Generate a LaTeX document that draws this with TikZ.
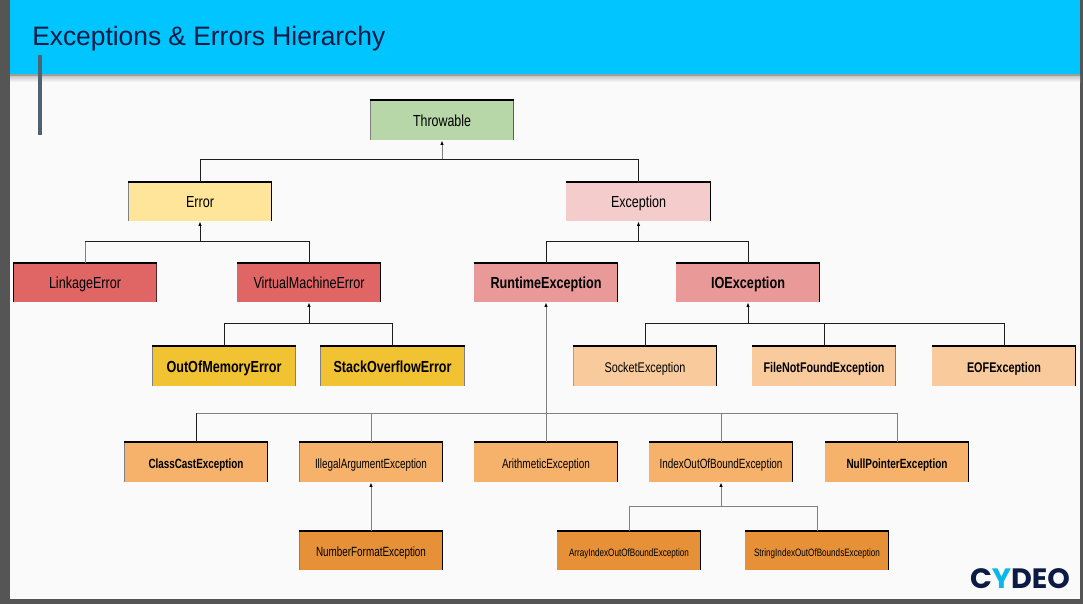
\documentclass[tikz,border=0pt]{standalone}
\usepackage{fontspec}
\setmainfont{Liberation Sans}
\newfontfamily\logofont{Poppins}
\usetikzlibrary{arrows.meta}
\definecolor{pagebg}{HTML}{FAFAFA}
\definecolor{frame}{HTML}{555555}
\definecolor{header}{HTML}{00C5FF}
\definecolor{navy}{HTML}{0B1B45}
\definecolor{accent}{HTML}{4F6272}
\definecolor{shadowc}{HTML}{C4C4C4}
\definecolor{shadowl}{HTML}{9C9C9C}
\definecolor{cThrow}{HTML}{B7D7A8}
\definecolor{cErr}{HTML}{FFE599}
\definecolor{cExc}{HTML}{F4CCCC}
\definecolor{cRed}{HTML}{E06666}
\definecolor{cPink}{HTML}{EA9999}
\definecolor{cYel}{HTML}{F1C232}
\definecolor{cPeach}{HTML}{F9CB9C}
\definecolor{cOrg}{HTML}{F6B26B}
\definecolor{cDeep}{HTML}{E69138}
\definecolor{lineD}{HTML}{1E1E1E}
\definecolor{lineL}{HTML}{808080}
\newsavebox\lblbox
% #1 target width in reference pixels, #2 text: squeezed to exactly that width
\newcommand\fitw[2]{\sbox\lblbox{#2}\pgfmathsetmacro\lblscale{(#1*0.75)/\the\wd\lblbox}\scalebox{\lblscale}[1]{\usebox\lblbox}}
\newcommand\lab[3]{\fitw{#2}{\fontsize{#1}{#1}\selectfont #3}}
\newcommand\blab[3]{\fitw{#2}{\fontsize{#1}{#1}\selectfont\bfseries #3}}
\tikzset{
  x=0.75pt,y=-0.75pt,
  boxnode/.style={draw=none,inner sep=0pt,text=black,align=center,text height=10pt,text depth=1pt},
  topedge/.style={line width=1.5pt,black},
  sideedge/.style={line width=0.8pt},
  conn/.style={line width=0.75pt,lineD,xshift=-0.4pt},
  connl/.style={line width=0.75pt,lineL,xshift=-0.4pt},
  tipped/.style={-{Triangle[length=3pt,width=2.2pt,color=black,fill=black]},shorten >=0.5pt},
}
% name, fill, left colour, right colour, (l,t,r,b), label
\def\bx#1#2#3#4(#5,#6,#7,#8)#9{%
  \node[boxnode,fill=#2,minimum width={(#7-#5-1)*0.75pt},minimum height={(#8-#6)*0.75pt}] (#1) at ({(#5+#7)/2},{(#6+#8)/2}) {#9};
  \draw[sideedge,#3] (#1.north west) -- (#1.south west);
  \draw[sideedge,#4] (#1.north east) -- (#1.south east);
  \draw[topedge] ([xshift=-0.3pt]#1.north west) -- ([xshift=0.3pt]#1.north east);
}
\begin{document}
\begin{tikzpicture}
\useasboundingbox (0,0) rectangle (1083,604);
\fill[frame] (0,0) rectangle (1083,604);
\fill[pagebg] (10,74) rectangle (1080,599);
\shade[top color=shadowc,bottom color=pagebg] (10,75.5) rectangle (1080,82);
\fill[shadowl] (10,74) rectangle (1080,75.5);
\fill[header] (10,0) rectangle (1080,74);
\fill[accent] (38,55) rectangle (42,135);
\node[inner sep=0pt,text=navy,anchor=base west] (title) at (32,45) {\lab{20}{353}{Exceptions \& Errors Hierarchy}};

\bx{thr}{cThrow}{lineL}{accent}(370,100,514,140){\lab{12}{58}{Throwable}}
\bx{err}{cErr}{lineL}{black}(128,182,272,221){\lab{12}{28}{Error}}
\bx{exc}{cExc}{cExc}{black}(566,182,711,221){\lab{12}{55}{Exception}}
\bx{lnk}{cRed}{black}{black!60!cRed}(13,263,157,302){\lab{12}{72}{LinkageError}}
\bx{vme}{cRed}{cRed}{black}(237,263,381,302){\lab{12}{111}{VirtualMachineError}}
\bx{run}{cPink}{cPink}{black}(474,263,618,302){\blab{12}{111}{RuntimeException}}
\bx{ioe}{cPink}{cPink}{black}(676,263,820,302){\blab{12}{74}{IOException}}
\bx{oom}{cYel}{lineL}{lineL}(152,346,296,386){\blab{12}{115}{OutOfMemoryError}}
\bx{soe}{cYel}{lineL}{lineL}(320,346,465,386){\blab{12}{118}{StackOverflowError}}
\bx{sck}{cPeach}{lineL!60!cPeach}{black}(573,346,717,386){\lab{10.5}{81}{SocketException}}
\bx{fnf}{cPeach}{cPeach}{lineL}(752,346,896,386){\blab{10.5}{121}{FileNotFoundException}}
\bx{eof}{cPeach}{cPeach}{black}(932,346,1076,386){\blab{10.5}{74}{EOFException}}
\bx{ccx}{cOrg}{lineL}{black}(124,442,268,482){\blab{10}{95}{ClassCastException}}
\bx{iae}{cOrg}{lineL}{black}(299,442,443,482){\lab{10}{112}{IllegalArgumentException}}
\bx{ari}{cOrg}{cOrg}{black}(474,442,618,482){\lab{10}{88}{ArithmeticException}}
\bx{iob}{cOrg}{cOrg}{black}(649,442,793,482){\lab{10}{123}{IndexOutOfBoundException}}
\bx{npe}{cOrg}{cOrg}{black}(825,442,969,482){\blab{10}{101}{NullPointerException}}
\bx{nfe}{cDeep}{lineL}{black}(299,531,443,570){\lab{10}{110}{NumberFormatException}}
\bx{aob}{cDeep}{cDeep}{black}(557,531,701,570){\lab{8}{120}{ArrayIndexOutOfBoundException}}
\bx{sob}{cDeep}{cDeep}{black}(745,531,889,570){\lab{8}{126}{StringIndexOutOfBoundsException}}

\coordinate (busThr) at (0,159);
\coordinate (busErr) at (0,241);
\coordinate (busExc) at (0,241);
\coordinate (busVme) at (0,323);
\coordinate (busIoe) at (0,323);
\coordinate (busRun) at (0,413);
\coordinate (busIob) at (0,506);

\draw[conn] (err.north) |- (thr.south |- busThr);
\draw[conn] (exc.north) |- (thr.south |- busThr);
\draw[connl,tipped] (thr.south |- busThr) -- (thr.south);

\draw[connl] (lnk.north) -- (lnk.north |- busErr);
\draw[conn] (lnk.north |- busErr) -- (vme.north |- busErr) -- (vme.north);
\draw[conn,tipped] (err.south |- busErr) -- (err.south);

\draw[conn] (run.north) |- (exc.south |- busExc);
\draw[conn] (ioe.north) |- (exc.south |- busExc);
\draw[conn,tipped] (exc.south |- busExc) -- (exc.south);

\draw[conn] (oom.north) |- (vme.south |- busVme);
\draw[conn] (soe.north) |- (vme.south |- busVme);
\draw[conn,tipped] (vme.south |- busVme) -- (vme.south);

\draw[conn] (sck.north) |- (ioe.south |- busIoe);
\draw[conn] (eof.north) |- (ioe.south |- busIoe);
\draw[conn] (fnf.north) -- (fnf.north |- busIoe);
\draw[conn,tipped] (ioe.south |- busIoe) -- (ioe.south);

\draw[connl] (ccx.north |- busRun) -- (npe.north |- busRun) -- (npe.north);
\draw[conn] (ccx.north) -- (ccx.north |- busRun);
\draw[connl] (iae.north) -- (iae.north |- busRun);
\draw[connl] (iob.north) -- (iob.north |- busRun);
\draw[connl,tipped] (ari.north) -- (run.south);

\draw[connl,tipped] (nfe.north) -- (iae.south);

\draw[connl] (aob.north) |- (iob.south |- busIob);
\draw[connl] (sob.north) |- (iob.south |- busIob);
\draw[connl,tipped] (iob.south |- busIob) -- (iob.south);

\node[inner sep=0pt,anchor=center,text=navy] (logo) at (1020,578.5) {\fitw{100}{\logofont\fontsize{21}{21}\selectfont\bfseries C\textcolor{header!85!accent}{Y}DEO}};
\end{tikzpicture}
\end{document}
